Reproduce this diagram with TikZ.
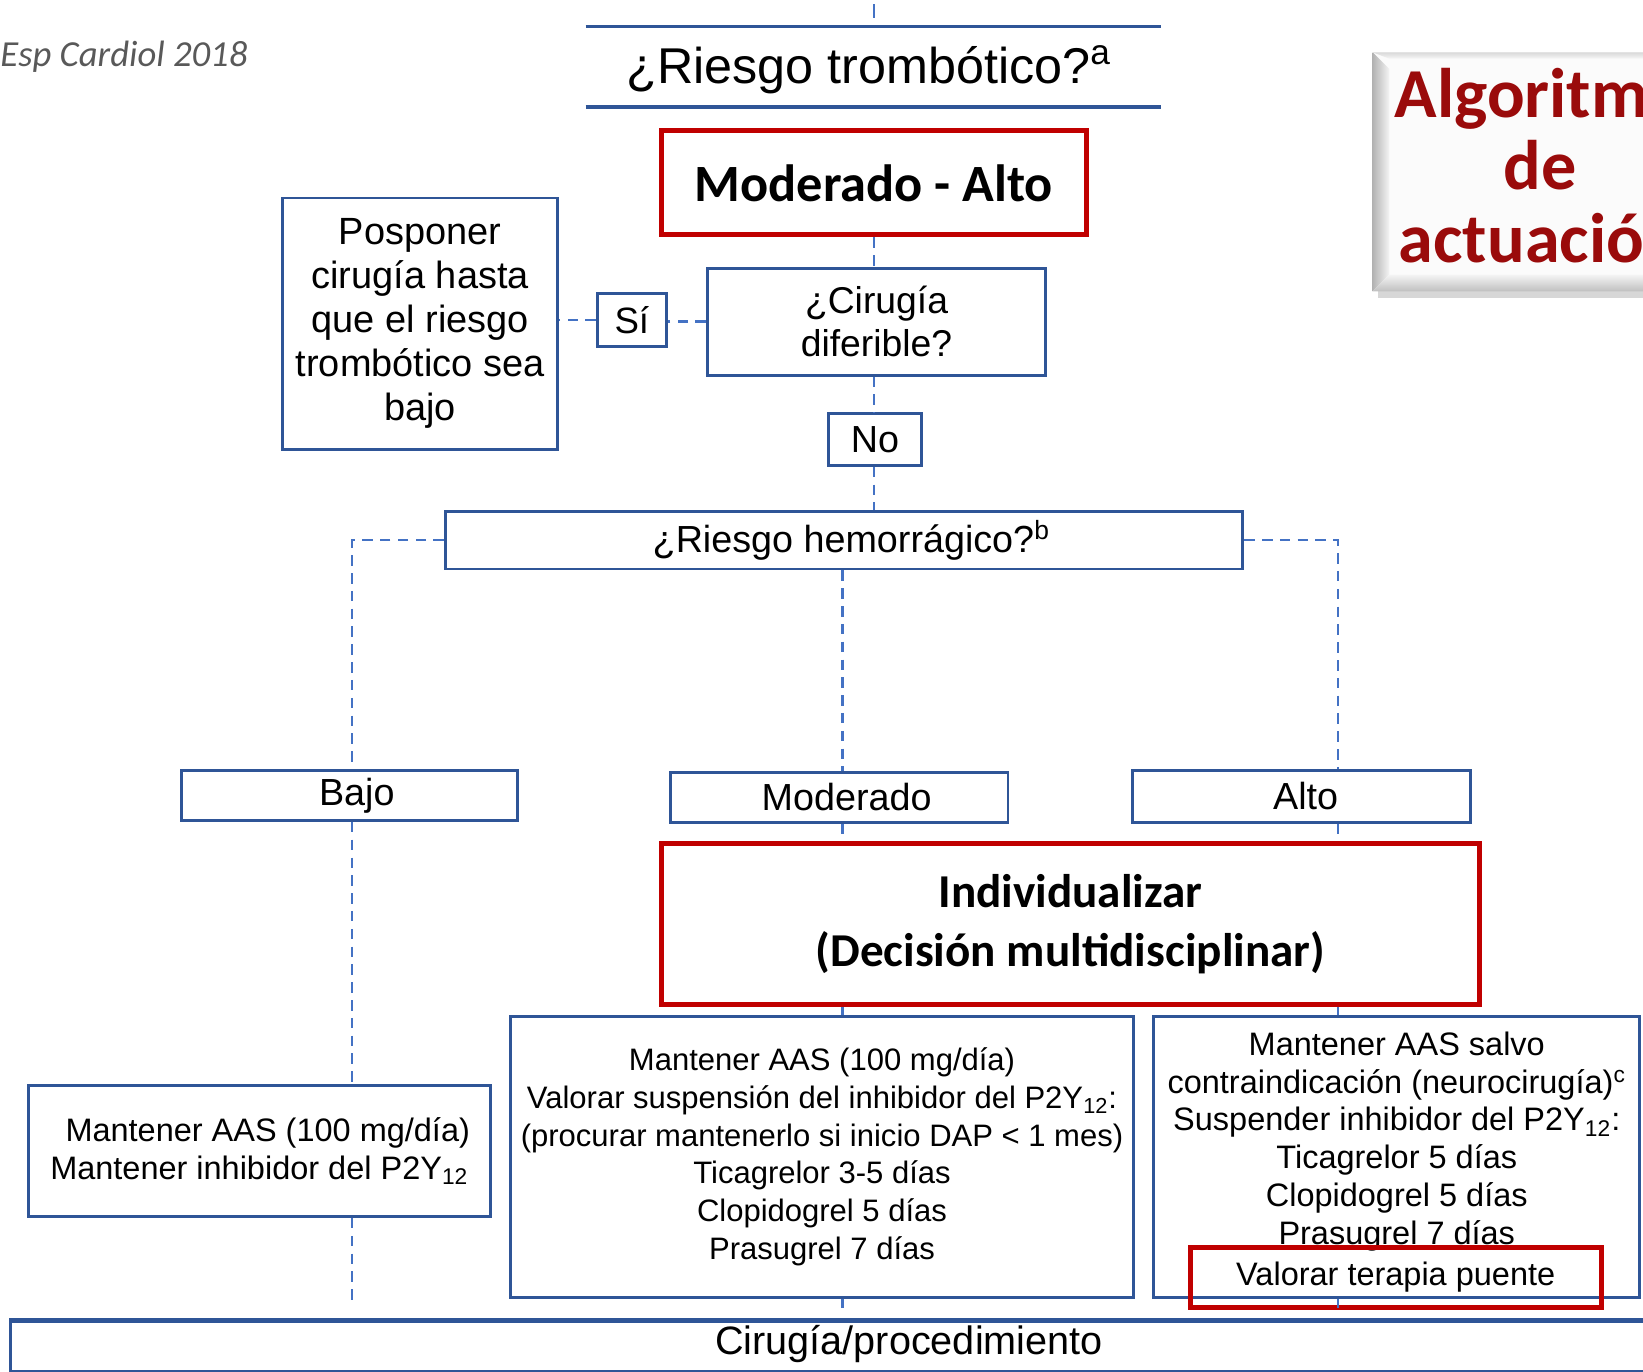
\documentclass[tikz,border=0pt]{standalone}
\usepackage{fontspec}
\setmainfont{Liberation Sans}
\newfontfamily\calibri{Carlito}
\usetikzlibrary{calc}

\definecolor{boxblue}{HTML}{2F5597}
\definecolor{linkblue}{HTML}{4472C4}
\definecolor{alertred}{HTML}{C00000}
\definecolor{titlered}{HTML}{9A0B0B}
\definecolor{notegray}{HTML}{595959}

\tikzset{
  box/.style={draw=boxblue, line width=1.4pt, fill=white, inner sep=0pt, align=center},
  redbox/.style={draw=alertred, line width=2.4pt, inner sep=0pt, align=center},
  link/.style={draw=linkblue, line width=1.2pt, dash pattern=on 5pt off 3.5pt},
  fs/.style={font=\fontsize{#1}{#1}\selectfont},
}

\begin{document}
\begin{tikzpicture}[x=0.5pt,y=-0.5pt]
\useasboundingbox (0,0) rectangle (1568,1309);

% reference note
\node[anchor=west, inner sep=0pt, text=notegray,
      font=\calibri\itshape\fontsize{17.5}{21}\selectfont] (src) at (0,54) {Esp Cardiol 2018};

% "Algoritmo de actuación" bevelled panel, running off the right edge
\fill[gray!45, opacity=0.7] (1315,56) rectangle (1660,284);
\fill[gray!3] (1310,50) rectangle (1660,278);
\shade[top color=gray!30, bottom color=gray!6] (1310,50) -- (1660,50) -- (1660,56) -- (1326,56) -- cycle;
\shade[left color=gray!60, right color=gray!8] (1310,50) -- (1326,66) -- (1326,262) -- (1310,278) -- cycle;
\shade[top color=gray!8, bottom color=gray!50] (1310,278) -- (1326,262) -- (1660,262) -- (1660,278) -- cycle;
\node[align=center, inner sep=0pt, text=titlered,
      font=\calibri\bfseries\fontsize{33.5}{34.5}\selectfont] (algo) at (1470,158) {Algoritmo\\de\\actuación};

% thrombotic risk header
\coordinate (feedtop) at (834,4);
\coordinate (feedend) at (834,17);
\draw[link, solid] (feedtop) -- (feedend);
\coordinate (hdrNW) at (559,25);
\coordinate (hdrNE) at (1108,25);
\coordinate (hdrSW) at (559,102);
\coordinate (hdrSE) at (1108,102);
\draw[boxblue, line width=1.6pt] (hdrNW) -- (hdrNE);
\draw[boxblue, line width=1.6pt] (hdrSW) -- (hdrSE);
\node[inner sep=0pt, fs=24] (title) at (829,67) {¿Riesgo trombótico?\textsuperscript{a}};

% upper decision boxes
\node[redbox, minimum width=203pt, minimum height=49.5pt,
      font=\calibri\bfseries\fontsize{25}{30}\selectfont] (modalto) at (834,174.5) {Moderado - Alto};
\node[box, minimum width=161.5pt, minimum height=51pt, font=\fontsize{17.8}{20.5}\selectfont]
  (cirdif) at (836.5,307) {¿Cirugía\\diferible?};
\node[box, minimum width=33pt, minimum height=25.5pt, fs=17.5] (si) at (603,305.5) {Sí};
\node[box, minimum width=131pt, minimum height=120pt, font=\fontsize{18.1}{21}\selectfont]
  (posp) at (401,309) {Posponer\\cirugía hasta\\que el riesgo\\trombótico sea\\bajo};
\node[box, minimum width=44pt, minimum height=24.5pt, fs=18] (no) at (835,419.5) {No};
\node[box, minimum width=380.5pt, minimum height=27.5pt, fs=18] (hemo) at (805.5,515.5)
  {\hspace*{7pt}¿Riesgo hemorrágico?\textsuperscript{b}};

% bleeding risk levels
\node[box, minimum width=160.5pt, minimum height=24pt, fs=18] (bajo) at (333.5,759) {\hspace*{7pt}Bajo};
\node[box, minimum width=161pt, minimum height=24pt, fs=18] (moderado) at (801,761) {\hspace*{7pt}Moderado};
\node[box, minimum width=161pt, minimum height=25pt, fs=18] (alto) at (1242,760) {\hspace*{4pt}Alto};

\node[redbox, fill=white, minimum width=390.5pt, minimum height=77pt,
      font=\calibri\bfseries\fontsize{22.5}{28}\selectfont] (indiv) at (1021.5,882)
  {Individualizar\\(Decisión multidisciplinar)};

% management boxes
\node[box, minimum width=220.5pt, minimum height=62.5pt, font=\fontsize{15.5}{18}\selectfont]
  (keep) at (247.5,1098.5)
  {\hspace*{8pt}Mantener AAS (100 mg/día)\\Mantener inhibidor del P2Y\textsubscript{12}};
\node[box, minimum width=297.5pt, minimum height=134pt, font=\fontsize{14.8}{18}\selectfont]
  (mid) at (784.5,1104)
  {Mantener AAS (100 mg/día)\\
   Valorar suspensión del inhibidor del P2Y\textsubscript{12}:\\
   (procurar mantenerlo si inicio DAP < 1 mes)\\
   Ticagrelor 3-5 días\\
   Clopidogrel 5 días\\
   Prasugrel 7 días};
\node[box, minimum width=232pt, minimum height=134pt, font=\fontsize{15.5}{18}\selectfont]
  (stop) at (1333,1104)
  {Mantener AAS salvo\\
   contraindicación (neurocirugía)\textsuperscript{c}\\
   Suspender inhibidor del P2Y\textsubscript{12}:\\
   Ticagrelor 5 días\\
   Clopidogrel 5 días\\
   Prasugrel 7 días\\
   \mbox{}};
\node[redbox, minimum width=196pt, minimum height=28.5pt, font=\fontsize{15.5}{18}\selectfont]
  (puente) at (1332,1219) {Valorar terapia puente};

% final step
\node[box, anchor=north west, minimum width=790pt, minimum height=23.5pt] (cir) at (9,1260) {};
\draw[boxblue, line width=2.4pt] (cir.north west) -- (cir.north east);
\node[inner sep=0pt, fs=18.9] (cirtxt) at (867.5,1283) {Cirugía/procedimiento};

% connector columns
\coordinate (xL) at (336,0);
\coordinate (xM) at (804,0);
\coordinate (xR) at (1277,0);

% connectors
\draw[link] (modalto.south) -- (modalto.south |- cirdif.north);
\draw[link] (cirdif.west) -- (cirdif.west -| si.east);
\draw[link] (si.west) -- (si.west -| posp.east);
\draw[link] (modalto.south |- cirdif.south) -- (modalto.south |- no.north);
\draw[link] (modalto.south |- no.south) -- (modalto.south |- hemo.north);
\draw[link] (hemo.west) -| (xL |- bajo.north);
\draw[link] (hemo.east) -| (xR |- alto.north);
\draw[link] (xM |- hemo.south) -- (xM |- moderado.north);

\draw[link] (xL |- bajo.south) -- (xL |- keep.north);
\draw[link, shorten >=7pt] (xL |- keep.south) -- (xL |- cir.north);
\draw[link] (xM |- moderado.south) -- (xM |- indiv.north);
\draw[link] (xM |- indiv.south) -- (xM |- mid.north);
\draw[link, shorten >=6pt] (xM |- mid.south) -- (xM |- cir.north);
\draw[link] (xR |- alto.south) -- (xR |- indiv.north);
\draw[link] (xR |- indiv.south) -- (xR |- stop.north);
\draw[link, shorten >=6pt] (xR |- stop.south) -- (xR |- cir.north);
\end{tikzpicture}
\end{document}
